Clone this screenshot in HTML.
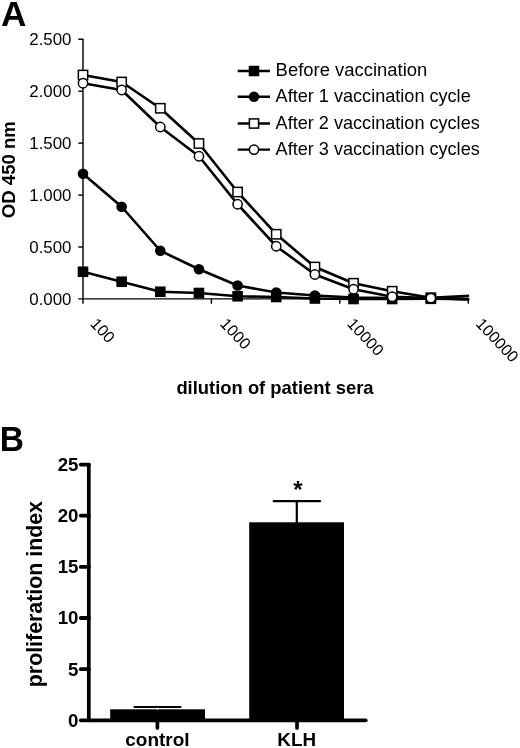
<!DOCTYPE html>
<html lang="en"><head><meta charset="utf-8"><title>Figure</title>
<style>
html,body{margin:0;padding:0;background:#fff;}
svg{display:block;}
text{font-family:"Liberation Sans",sans-serif;fill:#000;}
.b{font-weight:bold;}
</style></head><body>
<svg width="520" height="748" viewBox="0 0 520 748">
<rect width="520" height="748" fill="#fff"/>

<text class="b" x="1" y="26" font-size="35.2">A</text>
<g stroke="#000" stroke-width="1.4" fill="none">
<path d="M78.3 39.3H83V303.7"/>
<path d="M78.3 298.9H468.3V303.7"/>
<path d="M78.3 91.2H83"/>
<path d="M78.3 143.1H83"/>
<path d="M78.3 195.1H83"/>
<path d="M78.3 247.0H83"/>
<path d="M211.4 298.9V303.7"/>
<path d="M339.8 298.9V303.7"/>
</g>
<text font-size="16" text-anchor="end" transform="translate(71.5,45.1) scale(1.055,1)">2.500</text>
<text font-size="16" text-anchor="end" transform="translate(71.5,97.0) scale(1.055,1)">2.000</text>
<text font-size="16" text-anchor="end" transform="translate(71.5,148.9) scale(1.055,1)">1.500</text>
<text font-size="16" text-anchor="end" transform="translate(71.5,200.9) scale(1.055,1)">1.000</text>
<text font-size="16" text-anchor="end" transform="translate(71.5,252.8) scale(1.055,1)">0.500</text>
<text font-size="16" text-anchor="end" transform="translate(71.5,304.7) scale(1.055,1)">0.000</text>
<text font-size="16" transform="translate(89.6,324.6) rotate(46.5)">100</text>
<text font-size="16" transform="translate(219.3,324.6) rotate(46.5)">1000</text>
<text font-size="16" transform="translate(346.2,324.6) rotate(46.5)">10000</text>
<text font-size="16" transform="translate(474.9,324.6) rotate(46.5)">100000</text>
<text class="b" font-size="18.6" text-anchor="middle" transform="translate(14.7,169.7) rotate(-90)">OD 450 nm</text>
<text class="b" font-size="18.4" text-anchor="middle" x="275" y="394">dilution of patient sera</text>
<clipPath id="pa"><rect x="70" y="30" width="399.3" height="290"/></clipPath>
<g clip-path="url(#pa)" fill="none" stroke="#000" stroke-width="2.6" stroke-linejoin="round">
<polyline points="83.00,75.00 121.65,82.00 160.30,108.25 198.95,143.50 237.60,192.00 276.25,234.25 314.90,267.00 353.55,283.25 392.20,291.25 430.85,297.70 469.50,295.85"/>
<polyline points="83.00,271.75 121.65,281.75 160.30,291.75 198.95,293.00 237.60,296.25 276.25,297.00 314.90,298.50 353.55,299.00 392.20,299.00 430.85,298.80 469.50,299.30"/>
<polyline points="83.00,173.75 121.65,206.75 160.30,250.75 198.95,269.25 237.60,285.50 276.25,292.50 314.90,295.50 353.55,297.50 392.20,298.00 430.85,298.30 469.50,299.30"/>
<polyline points="83.00,83.25 121.65,90.00 160.30,127.00 198.95,156.25 237.60,204.25 276.25,246.25 314.90,274.50 353.55,289.25 392.20,296.75 430.85,298.10 469.50,299.30"/>
</g>
<rect x="78.35" y="70.35" width="9.3" height="9.3" fill="#fff" stroke="#000" stroke-width="1.5"/>
<rect x="117.00" y="77.35" width="9.3" height="9.3" fill="#fff" stroke="#000" stroke-width="1.5"/>
<rect x="155.65" y="103.60" width="9.3" height="9.3" fill="#fff" stroke="#000" stroke-width="1.5"/>
<rect x="194.30" y="138.85" width="9.3" height="9.3" fill="#fff" stroke="#000" stroke-width="1.5"/>
<rect x="232.95" y="187.35" width="9.3" height="9.3" fill="#fff" stroke="#000" stroke-width="1.5"/>
<rect x="271.60" y="229.60" width="9.3" height="9.3" fill="#fff" stroke="#000" stroke-width="1.5"/>
<rect x="310.25" y="262.35" width="9.3" height="9.3" fill="#fff" stroke="#000" stroke-width="1.5"/>
<rect x="348.90" y="278.60" width="9.3" height="9.3" fill="#fff" stroke="#000" stroke-width="1.5"/>
<rect x="387.55" y="286.60" width="9.3" height="9.3" fill="#fff" stroke="#000" stroke-width="1.5"/>
<rect x="426.20" y="293.05" width="9.3" height="9.3" fill="#fff" stroke="#000" stroke-width="1.5"/>
<rect x="77.70" y="266.45" width="10.6" height="10.6" fill="#000"/>
<rect x="116.35" y="276.45" width="10.6" height="10.6" fill="#000"/>
<rect x="155.00" y="286.45" width="10.6" height="10.6" fill="#000"/>
<rect x="193.65" y="287.70" width="10.6" height="10.6" fill="#000"/>
<rect x="232.30" y="290.95" width="10.6" height="10.6" fill="#000"/>
<rect x="270.95" y="291.70" width="10.6" height="10.6" fill="#000"/>
<rect x="309.60" y="293.20" width="10.6" height="10.6" fill="#000"/>
<rect x="348.25" y="293.70" width="10.6" height="10.6" fill="#000"/>
<rect x="386.90" y="293.70" width="10.6" height="10.6" fill="#000"/>
<rect x="425.55" y="293.50" width="10.6" height="10.6" fill="#000"/>
<circle cx="83.00" cy="173.75" r="5.3" fill="#000"/>
<circle cx="121.65" cy="206.75" r="5.3" fill="#000"/>
<circle cx="160.30" cy="250.75" r="5.3" fill="#000"/>
<circle cx="198.95" cy="269.25" r="5.3" fill="#000"/>
<circle cx="237.60" cy="285.50" r="5.3" fill="#000"/>
<circle cx="276.25" cy="292.50" r="5.3" fill="#000"/>
<circle cx="314.90" cy="295.50" r="5.3" fill="#000"/>
<circle cx="353.55" cy="297.50" r="5.3" fill="#000"/>
<circle cx="392.20" cy="298.00" r="5.3" fill="#000"/>
<circle cx="430.85" cy="298.30" r="5.3" fill="#000"/>
<circle cx="83.00" cy="83.25" r="4.65" fill="#fff" stroke="#000" stroke-width="1.5"/>
<circle cx="121.65" cy="90.00" r="4.65" fill="#fff" stroke="#000" stroke-width="1.5"/>
<circle cx="160.30" cy="127.00" r="4.65" fill="#fff" stroke="#000" stroke-width="1.5"/>
<circle cx="198.95" cy="156.25" r="4.65" fill="#fff" stroke="#000" stroke-width="1.5"/>
<circle cx="237.60" cy="204.25" r="4.65" fill="#fff" stroke="#000" stroke-width="1.5"/>
<circle cx="276.25" cy="246.25" r="4.65" fill="#fff" stroke="#000" stroke-width="1.5"/>
<circle cx="314.90" cy="274.50" r="4.65" fill="#fff" stroke="#000" stroke-width="1.5"/>
<circle cx="353.55" cy="289.25" r="4.65" fill="#fff" stroke="#000" stroke-width="1.5"/>
<circle cx="392.20" cy="296.75" r="4.65" fill="#fff" stroke="#000" stroke-width="1.5"/>
<circle cx="430.85" cy="298.10" r="4.65" fill="#fff" stroke="#000" stroke-width="1.5"/>
<path d="M237.7 71.0H270" stroke="#000" stroke-width="2.4"/>
<text font-size="18.1" transform="translate(275.6,76.2) scale(1.019,1)">Before vaccination</text>
<path d="M237.7 96.7H270" stroke="#000" stroke-width="2.4"/>
<text font-size="18.1" transform="translate(275.6,101.9) scale(1.0,1)">After 1 vaccination cycle</text>
<path d="M237.7 123.5H270" stroke="#000" stroke-width="2.4"/>
<text font-size="18.1" transform="translate(275.6,128.7) scale(1.0,1)">After 2 vaccination cycles</text>
<path d="M237.7 149.6H270" stroke="#000" stroke-width="2.4"/>
<text font-size="18.1" transform="translate(275.6,154.8) scale(1.0,1)">After 3 vaccination cycles</text>
<rect x="248.75" y="65.75" width="10.5" height="10.5" fill="#000"/>
<circle cx="254.00" cy="96.70" r="5.2" fill="#000"/>
<rect x="249.40" y="118.90" width="9.2" height="9.2" fill="#fff" stroke="#000" stroke-width="1.5"/>
<circle cx="254.00" cy="149.60" r="4.65" fill="#fff" stroke="#000" stroke-width="1.5"/>
<text class="b" font-size="35.3" transform="translate(-0.3,451.3) scale(0.95,1)">B</text>
<g stroke="#000" stroke-width="3.7" fill="none" stroke-linecap="round">
<path d="M88.8 464.6V720.3"/>
<path d="M157.4 720.3V728"/>
<path d="M297 720.3V728"/>
</g>
<g stroke="#000" stroke-width="3.8" fill="none" stroke-linecap="round">
<path d="M80.8 720.3H365.7"/>
<path d="M80.8 464.6H88.9"/>
<path d="M80.8 515.7H88.9"/>
<path d="M80.8 566.9H88.9"/>
<path d="M80.8 618.0H88.9"/>
<path d="M80.8 669.2H88.9"/>
</g>
<text class="b" font-size="17.8" text-anchor="end" transform="translate(78.5,471.0) scale(1.05,1)">25</text>
<text class="b" font-size="17.8" text-anchor="end" transform="translate(78.5,522.1) scale(1.05,1)">20</text>
<text class="b" font-size="17.8" text-anchor="end" transform="translate(78.5,573.3) scale(1.05,1)">15</text>
<text class="b" font-size="17.8" text-anchor="end" transform="translate(78.5,624.4) scale(1.05,1)">10</text>
<text class="b" font-size="17.8" text-anchor="end" transform="translate(78.5,675.6) scale(1.05,1)">5</text>
<text class="b" font-size="17.8" text-anchor="end" transform="translate(78.5,726.7) scale(1.05,1)">0</text>
<text class="b" font-size="21.35" text-anchor="middle" transform="translate(42.4,594.1) rotate(-90)">proliferation index</text>
<rect x="110.2" y="709.3" width="94.8" height="11.5" fill="#000"/>
<rect x="249.2" y="522.3" width="94.8" height="198.5" fill="#000"/>
<g stroke="#000" stroke-width="2.2" fill="none" stroke-linecap="round">
<path d="M134.5 707H180.5"/>
<path d="M273.7 501.2H320M296.8 501.2V523"/>
</g>
<path d="M157.4 707.5V710" stroke="#fff" stroke-width="0.8"/>
<text class="b" x="297.9" y="497.5" font-size="24" text-anchor="middle">*</text>
<text class="b" x="157.4" y="745.5" font-size="18" text-anchor="middle" textLength="64.2" lengthAdjust="spacingAndGlyphs">control</text>
<text class="b" x="296.7" y="745.5" font-size="18" text-anchor="middle" textLength="38.8" lengthAdjust="spacingAndGlyphs">KLH</text>
</svg></body></html>
